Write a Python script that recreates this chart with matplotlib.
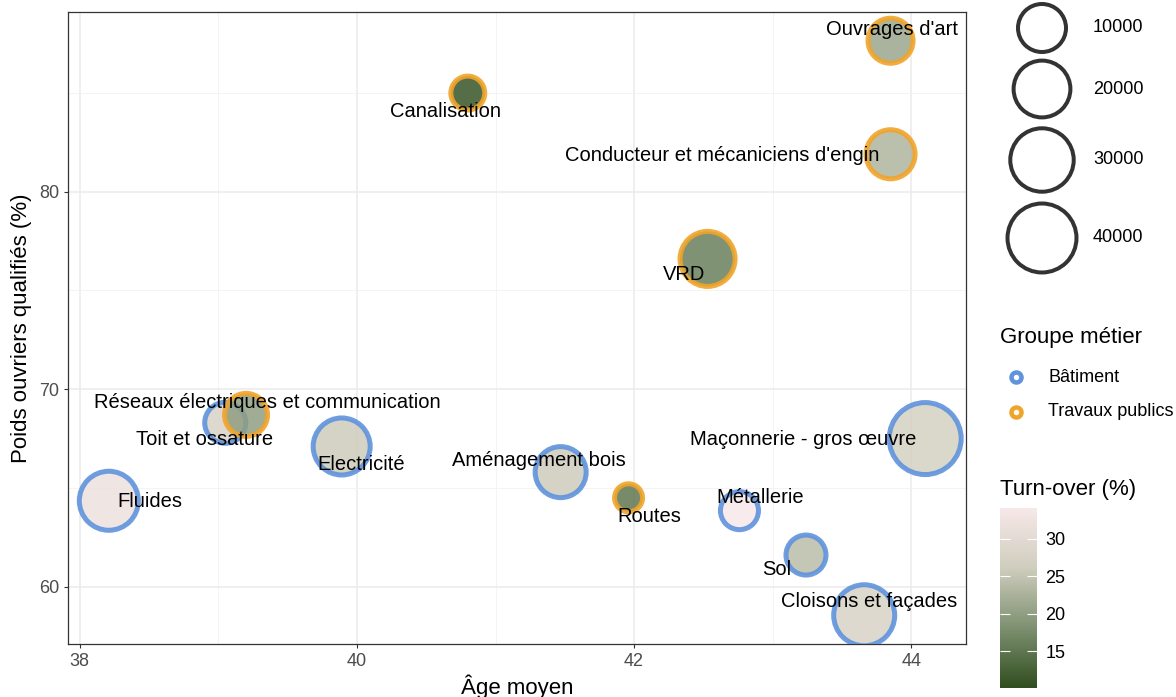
import numpy as np
import matplotlib
matplotlib.use("Agg")
import matplotlib.pyplot as plt
from matplotlib.colors import LinearSegmentedColormap, Normalize, to_rgba
from matplotlib.colorbar import ColorbarBase

plt.rcParams['font.family'] = ['Liberation Sans', 'DejaVu Sans']

# data
metiers = ["Ouvrages d'art", "Canalisation", "Conducteur et mécaniciens d'engin", "VRD",
           "Toit et ossature", "Réseaux électriques et communication", "Electricité", "Fluides",
           "Aménagement bois", "Routes", "Métallerie", "Maçonnerie - gros œuvre", "Sol",
           "Cloisons et façades"]
groupe = ["Travaux publics", "Travaux publics", "Travaux publics", "Travaux publics",
          "Bâtiment", "Travaux publics", "Bâtiment", "Bâtiment",
          "Bâtiment", "Travaux publics", "Bâtiment", "Bâtiment", "Bâtiment",
          "Bâtiment"]
age_moyen = [43.85, 40.80, 43.85, 42.53, 39.05, 39.20, 39.89, 38.21, 41.47, 41.96, 42.76, 44.10, 43.24, 43.66]
poids_oq = [87.65, 85.0, 81.9, 76.6, 68.3, 68.7, 67.1, 64.35, 65.8, 64.5, 63.85, 67.5, 61.6, 58.55]
effectif = [8300, 2100, 12000, 19000, 5400, 6700, 21700, 24600, 14100, 1250, 3700, 48200, 4750, 27700]
turnover = [21, 11, 23, 16, 28, 20, 26, 32, 26, 15, 34, 27, 24, 28]

size_breaks = [10000, 20000, 30000, 40000]
turnover_ticks = [15, 20, 25, 30]
groupes = ["Bâtiment", "Travaux publics"]
groupe_colors = {"Bâtiment": "#5f93dc", "Travaux publics": "#f0a42a"}

# label offsets in pixels (dx, dy), dy positive = down
label_offsets = [(1, -12), (-22, 17), (-168, 0), (-23, 15), (-21, 16), (21, -13), (20, 17),
                 (41, 0), (-22, -13), (21, 18), (21, -14), (-122, 0), (-29, 13), (5, -15)]

W, H, DPI = 1176, 697, 100
PX = 72.0 / DPI  # points per pixel

cmap = LinearSegmentedColormap.from_list(
    "turnover", ["#2f4d1e", "#7d9070", "#cfcdbd", "#f7e8e9"])
vmin_t, vmax_t = 10.05, 34.15
norm = Normalize(vmin_t, vmax_t)

emin, emax = min(effectif), max(effectif)
STROKE = 5


def ring_px(v):
    # total diameter of a bubble (ggplot area scale, range 33..77 px)
    return 33 + 44 * np.sqrt(max(v - emin, 0) / (emax - emin))


fig = plt.figure(figsize=(W / DPI, H / DPI), dpi=DPI)
ax = fig.add_axes([68 / W, 1 - 644 / H, (966 - 68) / W, (644 - 12) / H])

face = [to_rgba(cmap(norm(t)), 0.85) for t in turnover]
edge = [to_rgba(groupe_colors[g], 0.9) for g in groupe]
sizes = [((ring_px(v) - STROKE) * PX) ** 2 for v in effectif]
ax.scatter(age_moyen, poids_oq, s=sizes, c=face, edgecolors=edge, linewidths=STROKE * PX, zorder=3)

for name, x, y, (dx, dy) in zip(metiers, age_moyen, poids_oq, label_offsets):
    ax.annotate(name, (x, y), xytext=(dx * PX, -dy * PX - 0.7), textcoords="offset points",
                ha="center", va="center", fontsize=14.5, color="black", zorder=4)

xr = max(age_moyen) - min(age_moyen)
yr = max(poids_oq) - min(poids_oq)
ax.set_xlim(min(age_moyen) - 0.05 * xr, max(age_moyen) + 0.05 * xr)
ax.set_ylim(min(poids_oq) - 0.05 * yr, max(poids_oq) + 0.05 * yr)
ax.set_xticks([38, 40, 42, 44])
ax.set_xticks([39, 41, 43], minor=True)
ax.set_yticks([60, 70, 80])
ax.set_yticks([65, 75, 85], minor=True)
ax.grid(True, which="major", color="#ebebeb", lw=1.1, zorder=0)
ax.grid(True, which="minor", color="#f2f2f2", lw=0.6, zorder=0)
ax.set_axisbelow(True)
for sp in ax.spines.values():
    sp.set_color("#333333")
    sp.set_linewidth(0.9)
ax.tick_params(which="major", length=3, color="#333333", labelsize=13, labelcolor="#4d4d4d")
ax.tick_params(which="minor", length=0)
ax.set_xlabel("Âge moyen", fontsize=16, labelpad=3)
ax.set_ylabel("Poids ouvriers qualifiés (%)", fontsize=16, labelpad=5)

# legends drawn in pixel coordinates
lg = fig.add_axes([0, 0, 1, 1], zorder=5)
lg.set_xlim(0, W)
lg.set_ylim(H, 0)
lg.axis("off")

size_rows = [28, 89, 160, 238]
for b, yc in zip(size_breaks, size_rows):
    lg.scatter([1042], [yc], s=((ring_px(b) - 4) * PX) ** 2, facecolors="none",
               edgecolors="#333333", linewidths=4 * PX)
    lg.text(1093, yc, str(b), ha="left", va="center", fontsize=13)

lg.text(1000, 338, "Groupe métier", ha="left", va="center", fontsize=16)
for g, yc in zip(groupes, [377, 412]):
    lg.scatter([1016], [yc], s=(10 * PX) ** 2, facecolors="white",
               edgecolors=groupe_colors[g], linewidths=4.5 * PX)
    lg.text(1048, yc, g, ha="left", va="center", fontsize=13)

lg.text(1000, 490, "Turn-over (%)", ha="left", va="center", fontsize=16)

cax = fig.add_axes([1000 / W, 1 - 688 / H, 37 / W, 180 / H])
cb = ColorbarBase(cax, cmap=cmap, norm=norm, ticks=turnover_ticks)
cb.outline.set_visible(False)
cax.tick_params(direction="in", color="white", length=7, width=0.8, left=True, right=True,
                labelsize=13, pad=6)

fig.savefig("out.png", dpi=DPI)
